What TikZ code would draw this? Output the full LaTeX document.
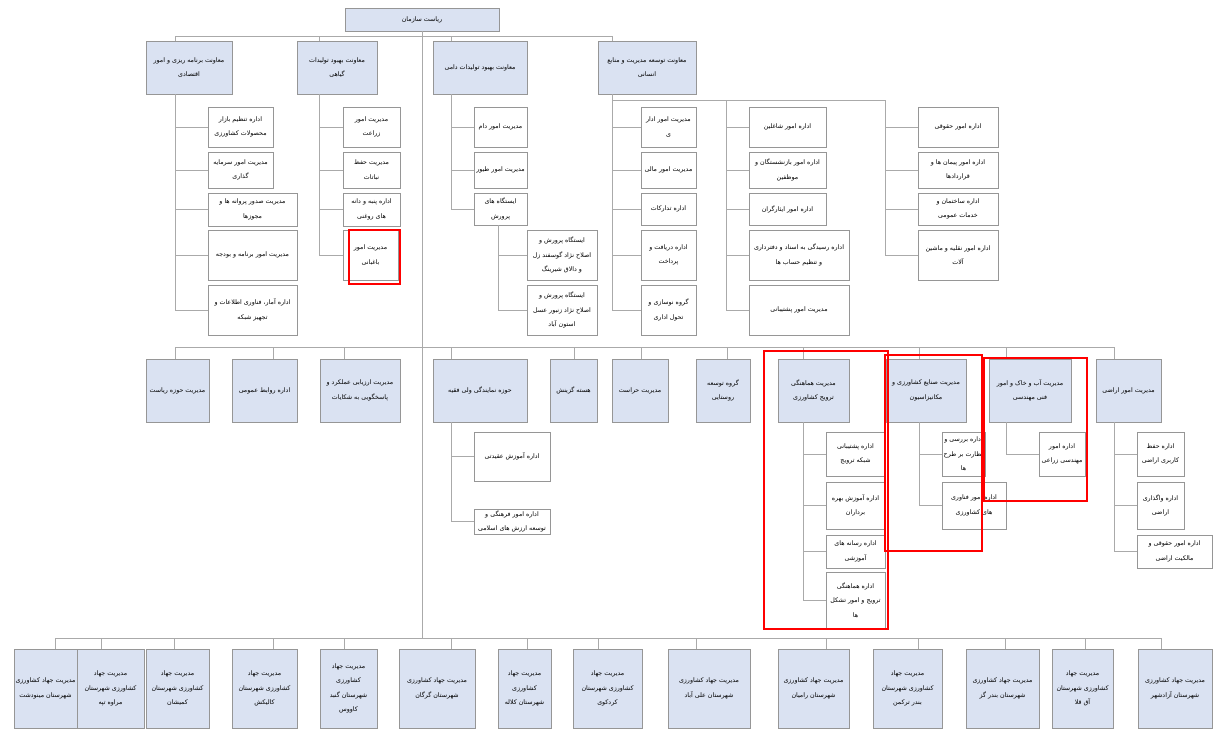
\documentclass[tikz,border=0pt]{standalone}
\usepackage{fontspec}
\newfontfamily\fafont[Script=Arabic]{DejaVu Sans}
\TeXXeTstate=1
\newcommand\rl[1]{\beginR #1\endR}
\definecolor{headblue}{RGB}{218,226,242}
\definecolor{framegray}{RGB}{150,150,150}
\definecolor{linegray}{RGB}{170,170,170}

\begin{document}
\begin{tikzpicture}[x=1pt,y=-1pt,
  lin/.style={draw=linegray,line width=0.8pt},
  unit/.style={draw=framegray,line width=0.8pt,fill=white,inner sep=1pt,outer sep=0pt,
    align=center,font=\fafont\fontsize{6.3}{14.5}\selectfont},
  head/.style={unit,fill=headblue},
  redframe/.style={draw=red,line width=2.8pt}]

  \useasboundingbox (0,0) rectangle (1213,729);

  \begin{scope}   % ریاست و معاونت ها

    \node[head,minimum width=154,minimum height=23] (top) at (422,19.5) {\rl{ریاست سازمان}};

    \node[head,minimum width=86,minimum height=53] (d1) at (189,67.5)
         {\rl{معاونت برنامه ریزی و امور}\\\rl{اقتصادی}};
    \node[head,minimum width=80,minimum height=53] (d2) at (337,67.5)
         {\rl{معاونت بهبود تولیدات}\\\rl{گیاهی}};
    \node[head,minimum width=94,minimum height=53] (d3) at (480,67.5)
         {\rl{معاونت بهبود تولیدات دامی}};
    \node[head,minimum width=98,minimum height=53] (d4) at (647,67.5)
         {\rl{معاونت توسعه مدیریت و منابع}\\\rl{انسانی}};

    \coordinate (s1) at (175,36);
    \coordinate (s2) at (319,36);
    \coordinate (s3) at (451,36);
    \coordinate (s4) at (612,36);
    \draw[lin] (s1)--(s4);
    \foreach \i in {1,...,4}
       \draw[lin] (s\i)--(s\i |- d\i.north);

  \end{scope}

  \begin{scope}   % زیرمجموعه معاونت ها

    \node[unit,minimum width=65,minimum height=40] (a1) at (240.5,127)
         {\rl{اداره تنظیم بازار}\\\rl{محصولات کشاورزی}};
    \node[unit,minimum width=65,minimum height=36] (a2) at (240.5,170)
         {\rl{مدیریت امور سرمایه}\\\rl{گذاری}};
    \node[unit,minimum width=89,minimum height=33] (a3) at (252.5,209.5)
         {\rl{مدیریت صدور پروانه ها و}\\\rl{مجوزها}};
    \node[unit,minimum width=89,minimum height=50] (a4) at (252.5,255)
         {\rl{مدیریت امور برنامه و بودجه}};
    \node[unit,minimum width=89,minimum height=50] (a5) at (252.5,310)
         {\rl{اداره آمار، فناوری اطلاعات و}\\\rl{تجهیز شبکه}};

    \node[unit,minimum width=57,minimum height=40] (b1) at (371.5,127)
         {\rl{مدیریت امور}\\\rl{زراعت}};
    \node[unit,minimum width=57,minimum height=36] (b2) at (371.5,170)
         {\rl{مدیریت حفظ}\\\rl{نباتات}};
    \node[unit,minimum width=57,minimum height=33] (b3) at (371.5,209.5)
         {\rl{اداره پنبه و دانه}\\\rl{های روغنی}};
    \node[unit,minimum width=55,minimum height=50] (b4) at (370.5,255)
         {\rl{مدیریت امور}\\\rl{باغبانی}};

    \node[unit,minimum width=53,minimum height=40] (c1) at (500.5,127)
         {\rl{مدیریت امور دام}};
    \node[unit,minimum width=53,minimum height=36] (c2) at (500.5,170)
         {\rl{مدیریت امور طیور}};
    \node[unit,minimum width=53,minimum height=32] (c3) at (500.5,209)
         {\rl{ایستگاه های}\\\rl{پرورش}};
    \node[unit,minimum width=70,minimum height=50] (c4) at (562,255)
         {\rl{ایستگاه پرورش و}\\\rl{اصلاح نژاد گوسفند زل}\\\rl{و دالاق شیرینگ}};
    \node[unit,minimum width=70,minimum height=50] (c5) at (562,310)
         {\rl{ایستگاه پرورش و}\\\rl{اصلاح نژاد زنبور عسل}\\\rl{استون آباد}};

    \node[unit,minimum width=55,minimum height=40] (e1) at (668.5,127)
         {\rl{مدیریت امور ادار}\\\rl{ی}};
    \node[unit,minimum width=55,minimum height=36] (e2) at (668.5,170)
         {\rl{مدیریت امور مالی}};
    \node[unit,minimum width=55,minimum height=32] (e3) at (668.5,209)
         {\rl{اداره تدارکات}};
    \node[unit,minimum width=55,minimum height=50] (e4) at (668.5,255)
         {\rl{اداره دریافت و}\\\rl{پرداخت}};
    \node[unit,minimum width=55,minimum height=50] (e5) at (668.5,310)
         {\rl{گروه نوسازی و}\\\rl{تحول اداری}};

    \node[unit,minimum width=77,minimum height=40] (f1) at (787.5,127)
         {\rl{اداره امور شاغلین}};
    \node[unit,minimum width=77,minimum height=36] (f2) at (787.5,170)
         {\rl{اداره امور بازنشستگان و}\\\rl{موظفین}};
    \node[unit,minimum width=77,minimum height=32] (f3) at (787.5,209)
         {\rl{اداره امور ایثارگران}};
    \node[unit,minimum width=100,minimum height=50] (f4) at (799,255)
         {\rl{اداره رسیدگی به اسناد و دفترداری}\\\rl{و تنظیم حساب ها}};
    \node[unit,minimum width=100,minimum height=50] (f5) at (799,310)
         {\rl{مدیریت امور پشتیبانی}};

    \node[unit,minimum width=80,minimum height=40] (g1) at (958,127)
         {\rl{اداره امور حقوقی}};
    \node[unit,minimum width=80,minimum height=36] (g2) at (958,170)
         {\rl{اداره امور پیمان ها و}\\\rl{قراردادها}};
    \node[unit,minimum width=80,minimum height=32] (g3) at (958,209)
         {\rl{اداره ساختمان و}\\\rl{خدمات عمومی}};
    \node[unit,minimum width=80,minimum height=50] (g4) at (958,255)
         {\rl{اداره امور نقلیه و ماشین}\\\rl{آلات}};

    \foreach \i in {1,...,5}
       \draw[lin] (s1 |- d1.south) |- (a\i.west);
    \foreach \i in {1,...,4}
       \draw[lin] (s2 |- d2.south) |- (b\i.west);
    \foreach \i in {1,...,3}
       \draw[lin] (s3 |- d3.south) |- (c\i.west);
    \coordinate (s3b) at (498,225);
    \foreach \i in {4,5}
       \draw[lin] (s3b) |- (c\i.west);

    \coordinate (s4b) at (726,100);
    \coordinate (s4c) at (885,100);
    \draw[lin] (s4 |- s4b)--(s4c);
    \foreach \i in {1,...,5}
       \draw[lin] (s4 |- d4.south) |- (e\i.west);
    \foreach \i in {1,...,5}
       \draw[lin] (s4b) |- (f\i.west);
    \foreach \i in {1,...,4}
       \draw[lin] (s4c) |- (g\i.west);

  \end{scope}

  \begin{scope}   % مدیریت های مستقل

    \node[head,minimum width=63,minimum height=63] (h1) at (177.5,390.5)
         {\rl{مدیریت حوزه ریاست}};
    \node[head,minimum width=65,minimum height=63] (h2) at (264.5,390.5)
         {\rl{اداره روابط عمومی}};
    \node[head,minimum width=80,minimum height=63] (h3) at (360,390.5)
         {\rl{مدیریت ارزیابی عملکرد و}\\\rl{پاسخگویی به شکایات}};
    \node[head,minimum width=94,minimum height=63] (h4) at (480,390.5)
         {\rl{حوزه نمایندگی ولی فقیه}};
    \node[head,minimum width=47,minimum height=63] (h5) at (573.5,390.5)
         {\rl{هسته گزینش}};
    \node[head,minimum width=56,minimum height=63] (h6) at (640,390.5)
         {\rl{مدیریت حراست}};
    \node[head,minimum width=54,minimum height=63] (h7) at (723,390.5)
         {\rl{گروه توسعه}\\\rl{روستایی}};
    \node[head,minimum width=71,minimum height=63] (h8) at (813.5,390.5)
         {\rl{مدیریت هماهنگی}\\\rl{ترویج کشاورزی}};
    \node[head,minimum width=80,minimum height=63] (h9) at (926,390.5)
         {\rl{مدیریت صنایع کشاورزی و}\\\rl{مکانیزاسیون}};
    \node[head,minimum width=82,minimum height=63] (h10) at (1030,390.5)
         {\rl{مدیریت آب و خاک و امور}\\\rl{فنی مهندسی}};
    \node[head,minimum width=65,minimum height=63] (h11) at (1128.5,390.5)
         {\rl{مدیریت امور اراضی}};

    \foreach \x [count=\i] in {175,273,344,451,574,641,727,803,919,1006,1114}
       \coordinate (t\i) at (\x,347);
    \draw[lin] (t1)--(t11);
    \foreach \i in {1,...,11}
       \draw[lin] (t\i)--(t\i |- h\i.north);

    \node[unit,minimum width=76,minimum height=49] (i1) at (512,456.5)
         {\rl{اداره آموزش عقیدتی}};
    \node[unit,minimum width=76,minimum height=25] (i2) at (512,521.5)
         {\rl{اداره امور فرهنگی و}\\\rl{توسعه ارزش های اسلامی}};

    \node[unit,minimum width=59,minimum height=44] (j1) at (855.5,454)
         {\rl{اداره پشتیبانی}\\\rl{شبکه ترویج}};
    \node[unit,minimum width=59,minimum height=47] (j2) at (855.5,505.5)
         {\rl{اداره آموزش بهره}\\\rl{برداران}};
    \node[unit,minimum width=59,minimum height=33] (j3) at (855.5,551.5)
         {\rl{اداره رسانه های}\\\rl{آموزشی}};
    \node[unit,minimum width=59,minimum height=56] (j4) at (855.5,600)
         {\rl{اداره هماهنگی}\\\rl{ترویج و امور تشکل}\\\rl{ها}};

    \node[unit,minimum width=43,minimum height=44] (k1) at (963.5,454)
         {\rl{اداره بررسی و}\\\rl{نظارت بر طرح}\\\rl{ها}};
    \node[unit,minimum width=64,minimum height=47] (k2) at (974,505.5)
         {\rl{اداره امور فناوری}\\\rl{های کشاورزی}};

    \node[unit,minimum width=46,minimum height=44] (l1) at (1062,454)
         {\rl{اداره امور}\\\rl{مهندسی زراعی}};

    \node[unit,minimum width=47,minimum height=44] (m1) at (1160.5,454)
         {\rl{اداره حفظ}\\\rl{کاربری اراضی}};
    \node[unit,minimum width=47,minimum height=47] (m2) at (1160.5,505.5)
         {\rl{اداره واگذاری}\\\rl{اراضی}};
    \node[unit,minimum width=75,minimum height=33] (m3) at (1174.5,551.5)
         {\rl{اداره امور حقوقی و}\\\rl{مالکیت اراضی}};

    \foreach \i in {1,2}
       \draw[lin] (t4 |- h4.south) |- (i\i.west);
    \foreach \i in {1,...,4}
       \draw[lin] (t8 |- h8.south) |- (j\i.west);
    \foreach \i in {1,2}
       \draw[lin] (t9 |- h9.south) |- (k\i.west);
    \draw[lin] (t10 |- h10.south) |- (l1.west);
    \foreach \i in {1,...,3}
       \draw[lin] (t11 |- h11.south) |- (m\i.west);

  \end{scope}

  \begin{scope}   % مدیریت های شهرستان

    \node[head,minimum width=63,minimum height=79] (n1) at (45.5,688.5)
         {\rl{مدیریت جهاد کشاورزی}\\\rl{شهرستان مینودشت}};
    \node[head,minimum width=67,minimum height=79] (n2) at (110.5,688.5)
         {\rl{مدیریت جهاد}\\\rl{کشاورزی شهرستان}\\\rl{مراوه تپه}};
    \node[head,minimum width=63,minimum height=79] (n3) at (177.5,688.5)
         {\rl{مدیریت جهاد}\\\rl{کشاورزی شهرستان}\\\rl{کمیشان}};
    \node[head,minimum width=65,minimum height=79] (n4) at (264.5,688.5)
         {\rl{مدیریت جهاد}\\\rl{کشاورزی شهرستان}\\\rl{کالیکش}};
    \node[head,minimum width=57,minimum height=79] (n5) at (348.5,688.5)
         {\rl{مدیریت جهاد}\\\rl{کشاورزی}\\\rl{شهرستان گنبد}\\\rl{کاووس}};
    \node[head,minimum width=76,minimum height=79] (n6) at (437,688.5)
         {\rl{مدیریت جهاد کشاورزی}\\\rl{شهرستان گرگان}};
    \node[head,minimum width=53,minimum height=79] (n7) at (524.5,688.5)
         {\rl{مدیریت جهاد}\\\rl{کشاورزی}\\\rl{شهرستان کلاله}};
    \node[head,minimum width=69,minimum height=79] (n8) at (607.5,688.5)
         {\rl{مدیریت جهاد}\\\rl{کشاورزی شهرستان}\\\rl{کردکوی}};
    \node[head,minimum width=82,minimum height=79] (n9) at (709,688.5)
         {\rl{مدیریت جهاد کشاورزی}\\\rl{شهرستان علی آباد}};
    \node[head,minimum width=71,minimum height=79] (n10) at (813.5,688.5)
         {\rl{مدیریت جهاد کشاورزی}\\\rl{شهرستان رامیان}};
    \node[head,minimum width=69,minimum height=79] (n11) at (907.5,688.5)
         {\rl{مدیریت جهاد}\\\rl{کشاورزی شهرستان}\\\rl{بندر ترکمن}};
    \node[head,minimum width=73,minimum height=79] (n12) at (1002.5,688.5)
         {\rl{مدیریت جهاد کشاورزی}\\\rl{شهرستان بندر گز}};
    \node[head,minimum width=61,minimum height=79] (n13) at (1082.5,688.5)
         {\rl{مدیریت جهاد}\\\rl{کشاورزی شهرستان}\\\rl{آق قلا}};
    \node[head,minimum width=74,minimum height=79] (n14) at (1175,688.5)
         {\rl{مدیریت جهاد کشاورزی}\\\rl{شهرستان آزادشهر}};

    \foreach \x [count=\i] in {55,101,174,273,344,451,527,598,696,826,918,1005,1085,1161}
       \coordinate (u\i) at (\x,638);
    \draw[lin] (u1)--(u14);
    \foreach \i in {1,...,14}
       \draw[lin] (u\i)--(u\i |- n\i.north);

    \draw[lin] (top.south)--(top.south |- u1);

  \end{scope}

  % کادرهای قرمز
  \draw[redframe] (349,230) rectangle (400,284);
  \draw[redframe] (764,351) rectangle (888,629);
  \draw[redframe] (885,355) rectangle (982,551);
  \draw[redframe] (984,358) rectangle (1087,501);

\end{tikzpicture}
\end{document}
